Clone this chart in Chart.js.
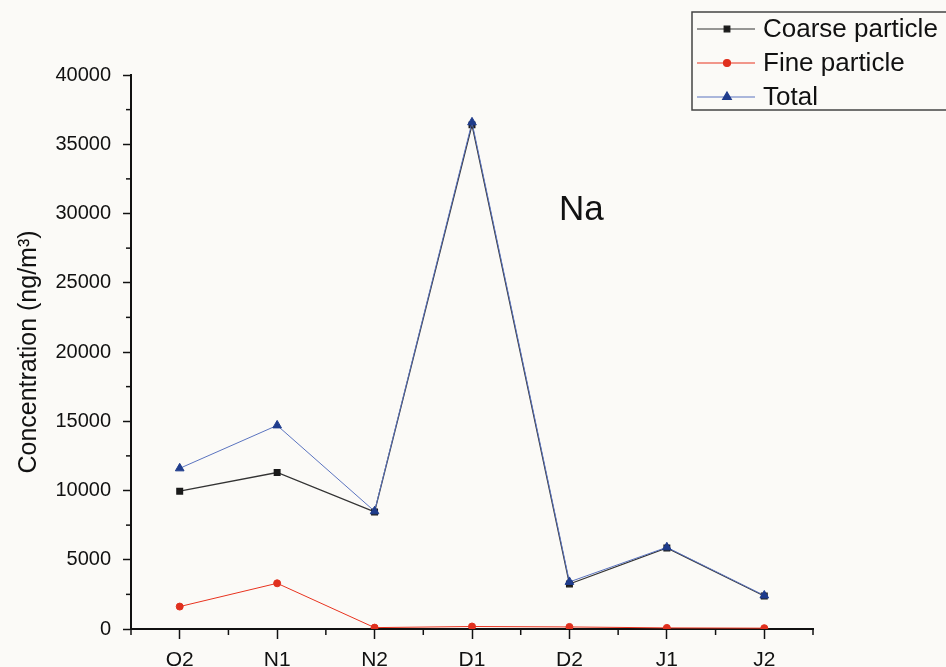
<!DOCTYPE html>
<html>
<head>
<meta charset="utf-8">
<script src="https://cdn.jsdelivr.net/npm/chart.js@4/dist/chart.umd.min.js"></script>
<style>
  body { margin: 0; background: #fbfaf7; }
  #wrap { width: 946px; height: 667px; }
</style>
</head>
<body>
<div id="wrap"><canvas id="chart"></canvas></div>
<script>
var sites = ['O2', 'N1', 'N2', 'D1', 'D2', 'J1', 'J2'];
var coarse = [9950, 11300, 8450, 36400, 3250, 5850, 2380];
var fine = [1620, 3300, 100, 180, 150, 80, 60];
var total = [11600, 14700, 8500, 36580, 3400, 5900, 2420];
var yTicks = [0, 5000, 10000, 15000, 20000, 25000, 30000, 35000, 40000];

var FONT = "'Liberation Sans', Arial, sans-serif";
Chart.defaults.font.family = FONT;
Chart.defaults.color = '#111';

// minor ticks, legend box and the element label
var extras = {
  id: 'extras',
  afterDraw: function (chart) {
    var ctx = chart.ctx;
    var xs = chart.scales.x, ys = chart.scales.y;
    var area = chart.chartArea;
    ctx.save();
    ctx.strokeStyle = '#111';
    ctx.lineWidth = 1.5;
    // y minor ticks
    for (var i = 0; i < yTicks.length - 1; i++) {
      var v = (yTicks[i] + yTicks[i + 1]) / 2;
      var py = ys.getPixelForValue(v);
      ctx.beginPath();
      ctx.moveTo(area.left - 5, py);
      ctx.lineTo(area.left, py);
      ctx.stroke();
    }
    // x minor ticks at category boundaries
    for (var j = 0; j <= sites.length; j++) {
      var px = xs.getPixelForValue(j - 0.5);
      ctx.beginPath();
      ctx.moveTo(px, area.bottom);
      ctx.lineTo(px, area.bottom + 6);
      ctx.stroke();
    }

    // legend
    ctx.lineWidth = 1.5;
    ctx.strokeStyle = '#444';
    ctx.strokeRect(692, 12, 270, 98);
    var rows = [29, 63, 97];
    chart.data.datasets.forEach(function (ds, k) {
      var y = rows[k];
      ctx.strokeStyle = ds.borderColor;
      ctx.lineWidth = 1.2;
      ctx.beginPath();
      ctx.moveTo(697, y);
      ctx.lineTo(755, y);
      ctx.stroke();
      ctx.fillStyle = ds.pointBackgroundColor;
      ctx.strokeStyle = ds.pointBorderColor;
      Chart.helpers.drawPoint(ctx, {
        pointStyle: ds.pointStyle,
        radius: ds.pointRadius,
        borderWidth: 1,
        rotation: 0
      }, 727, y);
      ctx.fillStyle = '#111';
      ctx.font = '26px ' + FONT;
      ctx.textAlign = 'left';
      ctx.textBaseline = 'middle';
      ctx.fillText(ds.label, 763, y + 1);
    });

    ctx.font = '35px ' + FONT;
    ctx.fillStyle = '#111';
    ctx.textAlign = 'left';
    ctx.textBaseline = 'alphabetic';
    ctx.fillText('Na', 559, 220);
    ctx.restore();
  }
};

var c = document.getElementById('chart');
var chart = new Chart(c, {
  type: 'line',
  data: {
    labels: sites,
    datasets: [
      {
        label: 'Coarse particle',
        data: coarse,
        borderColor: '#333333',
        borderWidth: 1.3,
        pointStyle: 'rect',
        pointRadius: 4,
        pointBackgroundColor: '#1a1a1a',
        pointBorderColor: '#1a1a1a',
        order: 1
      },
      {
        label: 'Fine particle',
        data: fine,
        borderColor: '#e8321e',
        borderWidth: 1,
        pointStyle: 'circle',
        pointRadius: 3.5,
        pointBackgroundColor: '#e0301e',
        pointBorderColor: '#e0301e',
        order: 2
      },
      {
        label: 'Total',
        data: total,
        borderColor: '#5a73bf',
        borderWidth: 1,
        pointStyle: 'triangle',
        pointRadius: 5,
        pointBackgroundColor: '#1f3c8c',
        pointBorderColor: '#1f3c8c',
        order: 0
      }
    ]
  },
  options: {
    responsive: true,
    maintainAspectRatio: false,
    animation: false,
    layout: { padding: { top: 75, right: 133, bottom: 0, left: 0 } },
    plugins: {
      legend: { display: false },
      tooltip: { enabled: false }
    },
    scales: {
      x: {
        type: 'category',
        offset: true,
        afterFit: function (s) { s.height = 38; },
        grid: {
          offset: false,
          drawOnChartArea: false,
          drawTicks: true,
          tickLength: 10,
          tickColor: '#111',
          tickWidth: 1.5
        },
        border: { color: '#111', width: 2 },
        ticks: { font: { size: 21 }, color: '#111', padding: 9, maxRotation: 0 }
      },
      y: {
        min: 0,
        max: 40000,
        afterFit: function (s) { s.width = 131; },
        afterBuildTicks: function (s) {
          s.ticks = yTicks.map(function (v) { return { value: v }; });
        },
        grid: {
          drawOnChartArea: false,
          drawTicks: true,
          tickLength: 8,
          tickColor: '#111',
          tickWidth: 1.5
        },
        border: { color: '#111', width: 2 },
        ticks: {
          font: { size: 20 },
          color: '#111',
          padding: 12,
          callback: function (v) { return String(v); }
        },
        title: {
          display: true,
          text: 'Concentration (ng/m³)',
          font: { size: 25 },
          color: '#111',
          padding: { top: 14, bottom: 0 }
        }
      }
    }
  },
  plugins: [extras]
});
</script>
</body>
</html>
